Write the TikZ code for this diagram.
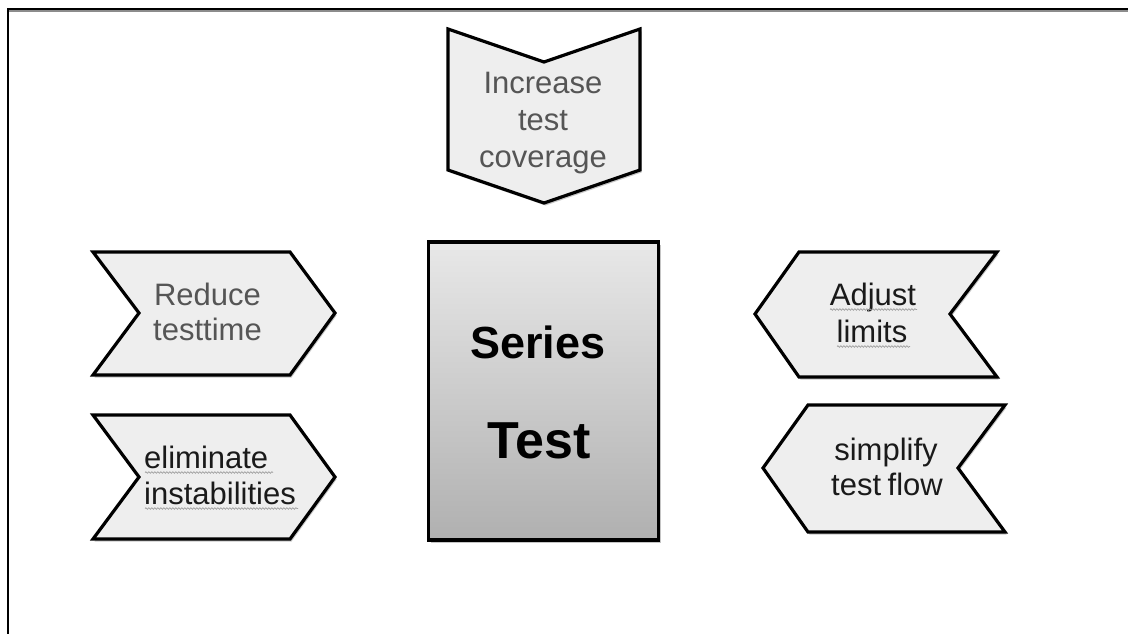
\documentclass[tikz,border=0pt]{standalone}
\usepackage{fontspec}
\setmainfont{Liberation Sans}
\usetikzlibrary{decorations.pathmorphing,shadows}
\definecolor{chevfill}{HTML}{EEEEEE}
\definecolor{graytext}{HTML}{555555}
\definecolor{darktext}{HTML}{1A1A1A}
\definecolor{boxtop}{HTML}{E8E8E8}
\definecolor{boxbot}{HTML}{B0B0B0}
\definecolor{squigcol}{HTML}{A0A0A0}
\tikzset{
  chev/.style={draw=black, line width=3.2pt, fill=chevfill, line join=miter},
  chevshadow/.style={fill=black!22, draw=none},
  lbl/.style={font=\fontsize{31}{37}\selectfont, inner sep=0pt, anchor=base},
  lblgray/.style={lbl, text=graytext},
  lbldark/.style={lbl, text=darktext},
  squiggle/.style={draw=squigcol, line width=0.7pt, decorate,
    decoration={snake, amplitude=0.8pt, segment length=3pt}},
  centerbox/.style={draw=black, line width=3.2pt, top color=boxtop, bottom color=boxbot,
    minimum width=230pt, minimum height=298pt, inner sep=0pt,
    drop shadow={shadow xshift=3pt, shadow yshift=-3pt, fill=black!45}},
  bigtxt/.style={inner sep=0pt, anchor=base, text=black}
}
\begin{document}
\begin{tikzpicture}[x=1pt,y=-1pt]
\useasboundingbox (0,0) rectangle (1128,634);
% frame
\draw[black!45, line width=2pt] (9,11) -- (1128,11);
\draw[black, line width=2.3pt] (7.8,634) -- (7.8,9) -- (1128,9);

% top chevron
\fill[chevshadow] (449.5,31.5) -- (545.5,64.5) -- (641.5,31.5) -- (641.5,172.5) -- (545.5,205.5) -- (449.5,172.5) -- cycle;
\draw[chev] (448,29) -- (544,62) -- (640,29) -- (640,170) -- (544,203) -- (448,170) -- cycle;
\node[lblgray] (inc1) at (543,93) {Increase};
\node[lblgray] (inc2) at (543,130) {test};
\node[lblgray] (inc3) at (543,167) {coverage};

% left chevron 1
\fill[chevshadow] (94.5,254.5) -- (291.5,254.5) -- (336.5,315.5) -- (291.5,377.5) -- (94.5,377.5) -- (140.5,315.5) -- cycle;
\draw[chev] (93,252) -- (290,252) -- (335,313) -- (290,375) -- (93,375) -- (139,313) -- cycle;
\node[lblgray] (red1) at (207.5,305) {Reduce};
\node[lblgray] (red2) at (207.5,340) {testtime};

% left chevron 2
\fill[chevshadow] (94.5,417.5) -- (291.5,417.5) -- (336.5,479.5) -- (291.5,541.5) -- (94.5,541.5) -- (140.5,479.5) -- cycle;
\draw[chev] (93,415) -- (290,415) -- (335,477) -- (290,539) -- (93,539) -- (139,477) -- cycle;
\node[lbldark, anchor=base west] (elim1) at (144,468) {eliminate};
\node[lbldark, anchor=base west] (elim2) at (144,504) {instabilities};
\draw[squiggle] (145,472.5) -- (273,472.5);
\draw[squiggle] (145,508.5) -- (298,508.5);

% right chevron 1
\fill[chevshadow] (800.5,254.5) -- (998.5,254.5) -- (951.5,316.5) -- (998.5,379.5) -- (800.5,379.5) -- (756.5,316.5) -- cycle;
\draw[chev] (799,252) -- (997,252) -- (950,314) -- (997,377) -- (799,377) -- (755,314) -- cycle;
\node[lbldark] (adj1) at (873,305) {Adjust};
\node[lbldark] (adj2) at (872,342) {limits};
\draw[squiggle] (830,309.5) -- (917,309.5);
\draw[squiggle] (837,346.5) -- (910,346.5);

% right chevron 2
\fill[chevshadow] (809.5,407.5) -- (1006.5,407.5) -- (959.5,470.5) -- (1006.5,534.5) -- (809.5,534.5) -- (764.5,470.5) -- cycle;
\draw[chev] (808,405) -- (1005,405) -- (958,468) -- (1005,532) -- (808,532) -- (763,468) -- cycle;
\node[lbldark] (simp1) at (886,460) {simplify};
\node[lbldark] (simp2) at (887,495) {test\kern-2pt\ flow};

% center box
\node[centerbox] (box) at (543.3,391) {};
\node[bigtxt, font=\fontsize{45}{50}\selectfont\bfseries] (series) at (538,358) {Series};
\node[bigtxt, font=\fontsize{52}{60}\selectfont\bfseries] (test) at (539,458) {Test};
\end{tikzpicture}
\end{document}
